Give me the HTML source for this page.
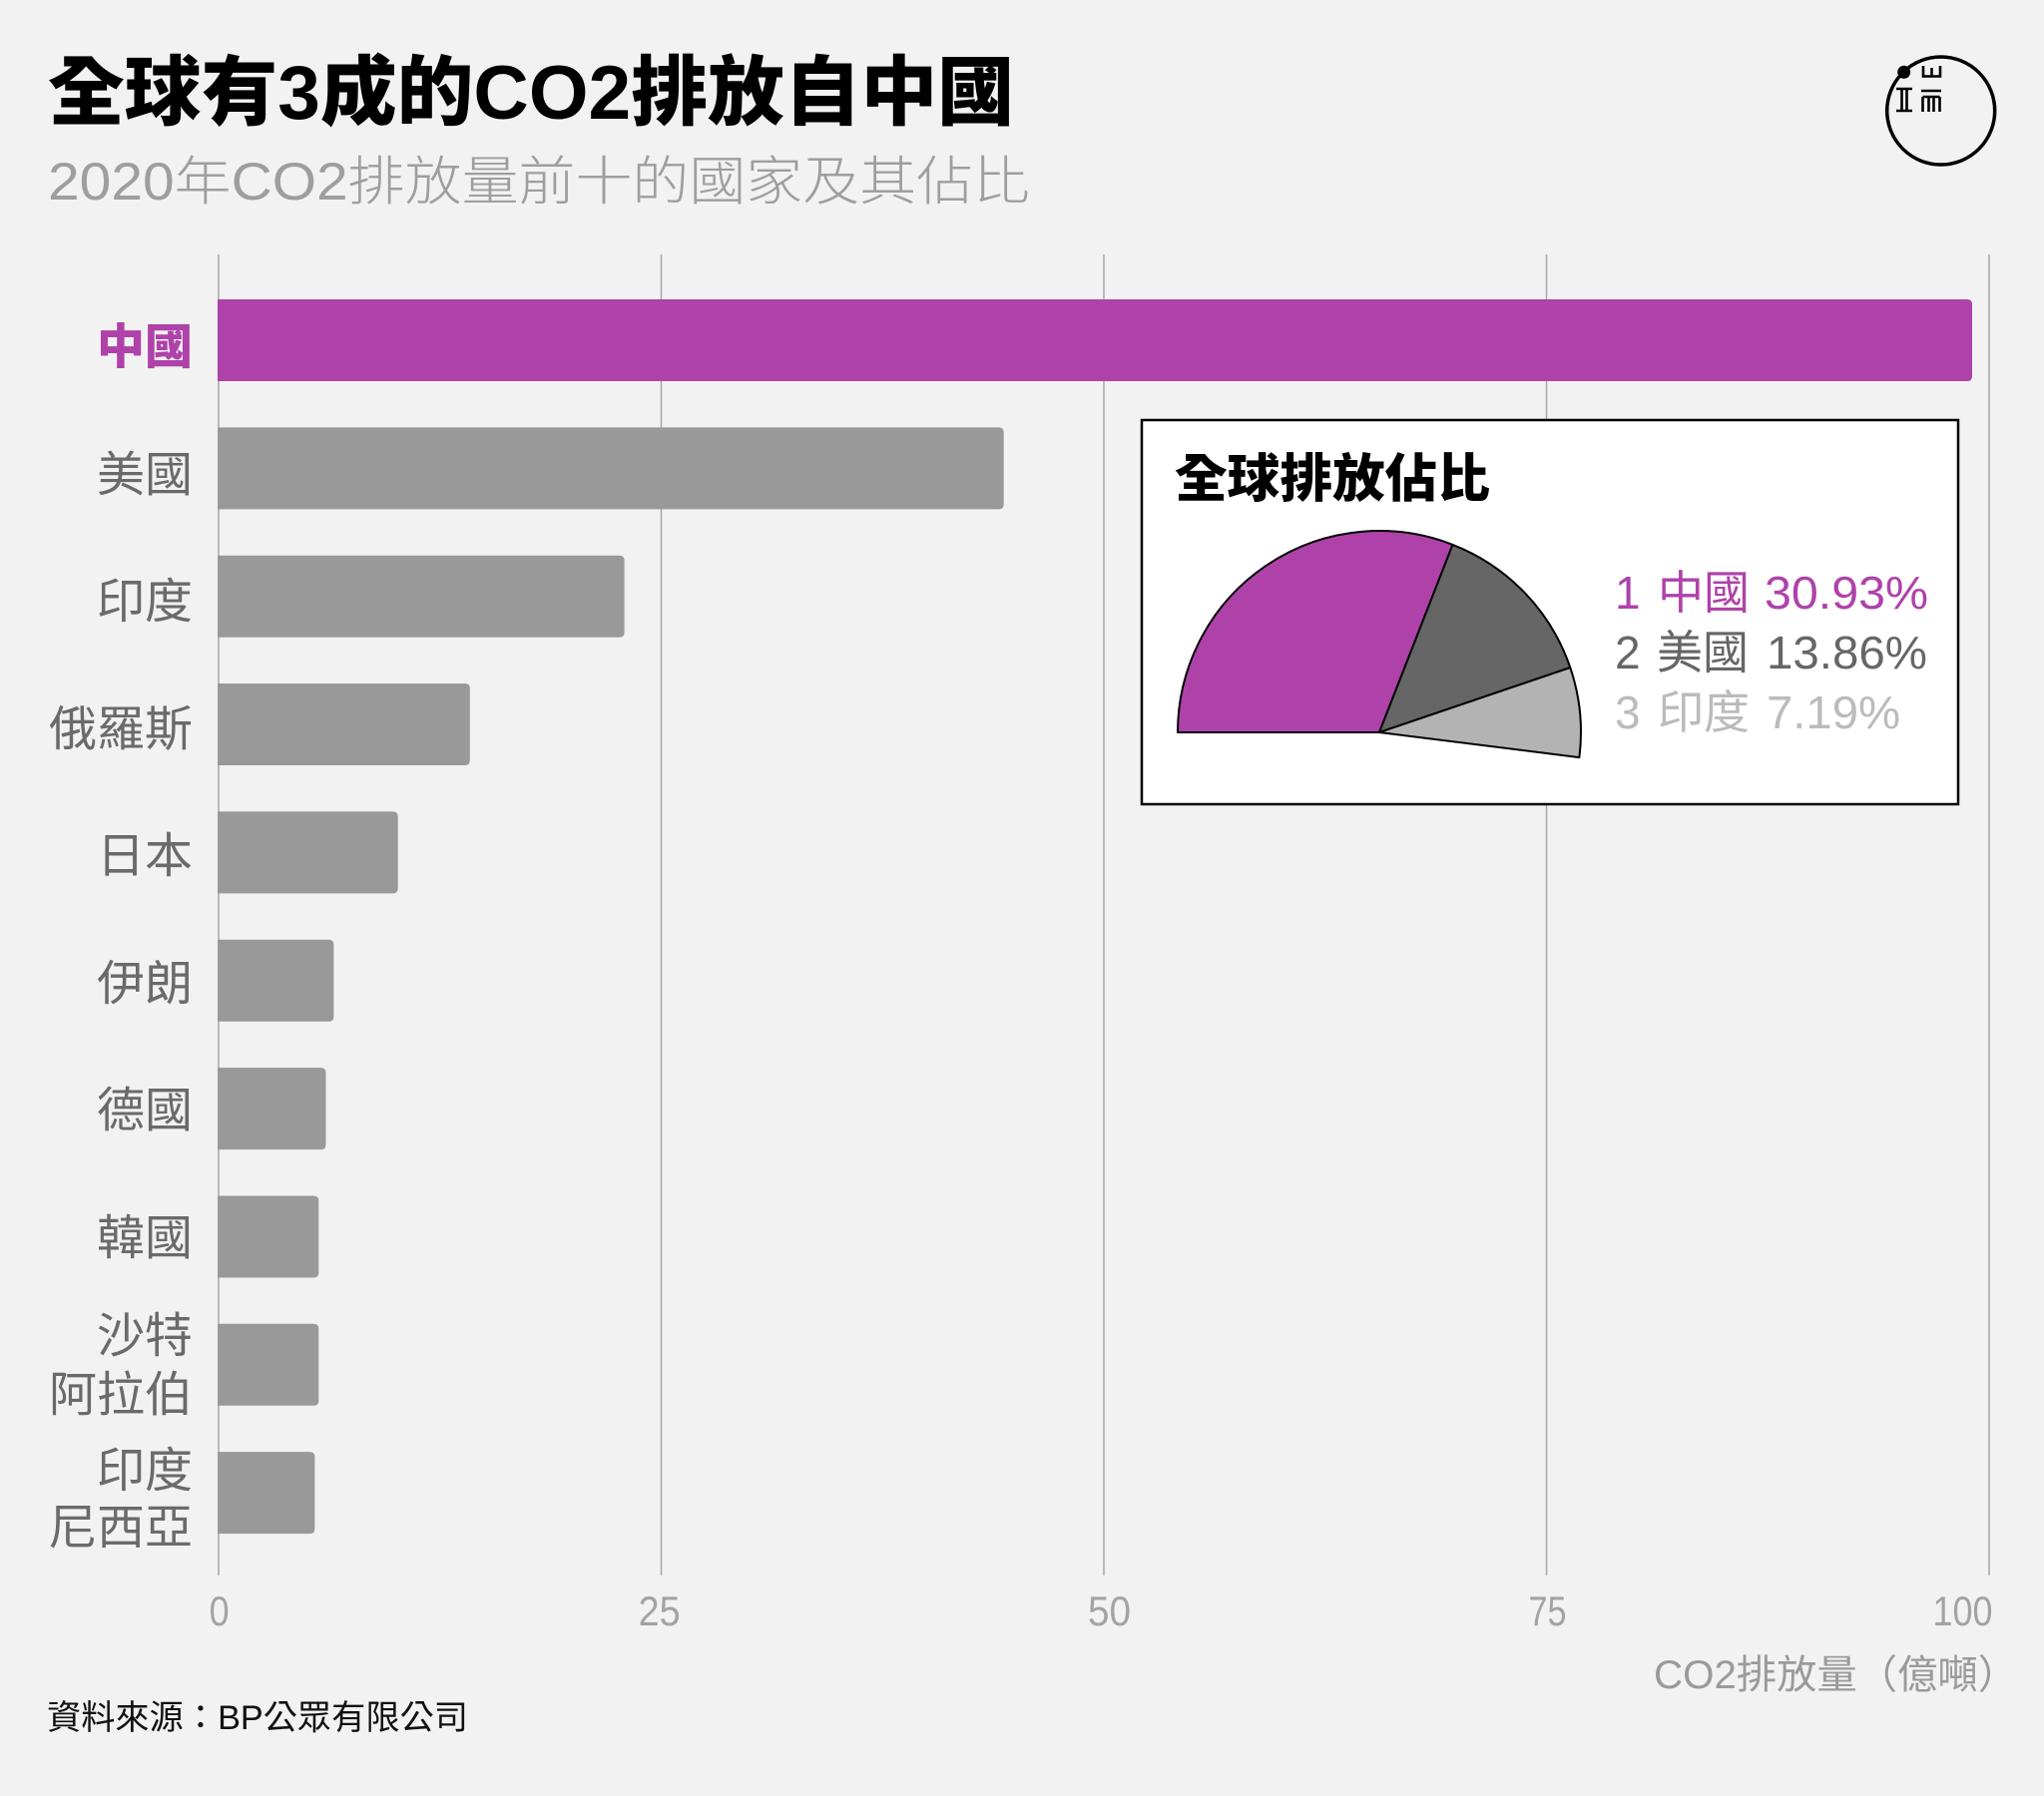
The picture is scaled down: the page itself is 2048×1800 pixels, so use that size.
<!DOCTYPE html>
<html>
<head>
<meta charset="utf-8">
<style>
  html, body { margin:0; padding:0; background:#f2f2f2; }
  svg { display:block; }
  .cjk { font-family: "Liberation Sans", "Noto Sans CJK TC", "Noto Sans CJK SC", sans-serif; }
</style>
</head>
<body>
<svg width="2048" height="1800" viewBox="0 0 2048 1800" xmlns="http://www.w3.org/2000/svg">
  <rect x="0" y="0" width="2048" height="1800" fill="#f2f2f2"/>

  <!-- Title -->
  <text class="cjk" x="48" y="119" font-size="76" font-weight="900" fill="#000" textLength="968" lengthAdjust="spacingAndGlyphs">全球有3成的CO2排放自中國</text>
  <!-- Subtitle -->
  <text class="cjk" x="48" y="200" font-size="53" font-weight="300" fill="#9e9e9e" textLength="984" lengthAdjust="spacingAndGlyphs">2020年CO2排放量前十的國家及其佔比</text>

  <!-- Logo -->
  <g stroke="#000" fill="none" stroke-width="3.5">
    <circle cx="1944.7" cy="111" r="54"/>
  </g>
  <circle cx="1907.7" cy="72.3" r="6.5" fill="#000"/>
  <g stroke="#000" stroke-width="2.6" fill="none" stroke-linecap="butt">
    <path d="M1927,66 V76.5 H1944 V66 M1935.5,68 V76.5"/>
    <path d="M1900,89 H1916 M1900,111 H1916 M1905.5,89 V111 M1910.5,89 V111"/>
    <path d="M1925,91 H1945 M1926.5,97 H1943.5 M1926.5,97 V112 M1943.5,97 V112 M1932.5,97 V112 M1937.5,97 V112"/>
  </g>

  <!-- Gridlines -->
  <g stroke="#a8a8a8" stroke-width="1.5">
    <line x1="219" y1="255" x2="219" y2="1579"/>
    <line x1="662.5" y1="255" x2="662.5" y2="1579"/>
    <line x1="1106" y1="255" x2="1106" y2="1579"/>
    <line x1="1549.5" y1="255" x2="1549.5" y2="1579"/>
    <line x1="1993" y1="255" x2="1993" y2="1579"/>
  </g>

  <!-- Bars -->
  <g>
    <path d="M218,300 H1971 Q1976,300 1976,305 V377 Q1976,382 1971,382 H218 Z" fill="#ae42a9"/>
    <path d="M218,428.35 H1000.7 Q1005.7,428.35 1005.7,433.35 V505.35 Q1005.7,510.35 1000.7,510.35 H218 Z" fill="#999999"/>
    <path d="M218,556.7 H620.6 Q625.6,556.7 625.6,561.7 V633.7 Q625.6,638.7 620.6,638.7 H218 Z" fill="#999999"/>
    <path d="M218,685.05 H465.8 Q470.8,685.05 470.8,690.05 V762.05 Q470.8,767.05 465.8,767.05 H218 Z" fill="#999999"/>
    <path d="M218,813.4 H393.7 Q398.7,813.4 398.7,818.4 V890.4 Q398.7,895.4 393.7,895.4 H218 Z" fill="#999999"/>
    <path d="M218,941.75 H329.4 Q334.4,941.75 334.4,946.75 V1018.75 Q334.4,1023.75 329.4,1023.75 H218 Z" fill="#999999"/>
    <path d="M218,1070.1 H321.5 Q326.5,1070.1 326.5,1075.1 V1147.1 Q326.5,1152.1 321.5,1152.1 H218 Z" fill="#999999"/>
    <path d="M218,1198.45 H314.3 Q319.3,1198.45 319.3,1203.45 V1275.45 Q319.3,1280.45 314.3,1280.45 H218 Z" fill="#999999"/>
    <path d="M218,1326.8 H314.3 Q319.3,1326.8 319.3,1331.8 V1403.8 Q319.3,1408.8 314.3,1408.8 H218 Z" fill="#999999"/>
    <path d="M218,1455.15 H310.4 Q315.4,1455.15 315.4,1460.15 V1532.15 Q315.4,1537.15 310.4,1537.15 H218 Z" fill="#999999"/>
  </g>

  <!-- Category labels -->
  <g class="cjk" font-size="48" text-anchor="end" fill="#6a6a6a">
    <text x="193" y="364" fill="#ae42a9" font-weight="900">中國</text>
    <text x="193" y="492">美國</text>
    <text x="193" y="619">印度</text>
    <text x="193" y="747">俄羅斯</text>
    <text x="193" y="874">日本</text>
    <text x="193" y="1002">伊朗</text>
    <text x="193" y="1129">德國</text>
    <text x="193" y="1257">韓國</text>
    <text x="193" y="1355">沙特</text>
    <text x="193" y="1414">阿拉伯</text>
    <text x="193" y="1490">印度</text>
    <text x="193" y="1547">尼西亞</text>
  </g>

  <!-- X tick labels -->
  <g font-family="Liberation Sans, sans-serif" font-size="42" fill="#a3a3a3" text-anchor="middle">
    <text x="219.6" y="1629" textLength="20" lengthAdjust="spacingAndGlyphs">0</text>
    <text x="660.6" y="1629" textLength="42" lengthAdjust="spacingAndGlyphs">25</text>
    <text x="1111.5" y="1629" textLength="43" lengthAdjust="spacingAndGlyphs">50</text>
    <text x="1550.5" y="1629" textLength="38" lengthAdjust="spacingAndGlyphs">75</text>
    <text x="1966.5" y="1629" textLength="60" lengthAdjust="spacingAndGlyphs">100</text>
  </g>

  <!-- Axis title -->
  <text class="cjk" x="1657" y="1692" font-size="40" fill="#9a9a9a" textLength="365" lengthAdjust="spacingAndGlyphs">CO2排放量（億噸）</text>

  <!-- Source -->
  <text class="cjk" x="47" y="1733" font-size="34" fill="#111" textLength="422" lengthAdjust="spacingAndGlyphs">資料來源：BP公眾有限公司</text>

  <!-- Inset -->
  <rect x="1144" y="421" width="818" height="385" fill="#ffffff" stroke="#000" stroke-width="2.5"/>
  <text class="cjk" x="1177" y="498" font-size="52" font-weight="900" fill="#000" textLength="316" lengthAdjust="spacingAndGlyphs">全球排放佔比</text>

  <!-- Pie -->
  <g stroke="#000" stroke-width="2" stroke-linejoin="round">
    <path d="M1382,734 L1180,734 A202,202 0 0 1 1455.5,545.9 Z" fill="#ae42a9"/>
    <path d="M1382,734 L1455.5,545.9 A202,202 0 0 1 1573.3,669.1 Z" fill="#666666"/>
    <path d="M1382,734 L1573.3,669.1 A202,202 0 0 1 1582.4,759.1 Z" fill="#b3b3b3"/>
  </g>

  <!-- Legend -->
  <g class="cjk" font-size="46">
    <g fill="#ae42a9">
      <text x="1618" y="610">1</text>
      <text x="1661" y="610">中國</text>
      <text x="1768" y="610" textLength="164" lengthAdjust="spacingAndGlyphs">30.93%</text>
    </g>
    <g fill="#666666">
      <text x="1618" y="670">2</text>
      <text x="1660" y="670">美國</text>
      <text x="1770" y="670" textLength="161" lengthAdjust="spacingAndGlyphs">13.86%</text>
    </g>
    <g fill="#bbbbbb">
      <text x="1618" y="730">3</text>
      <text x="1661" y="730">印度</text>
      <text x="1770" y="730" textLength="134" lengthAdjust="spacingAndGlyphs">7.19%</text>
    </g>
  </g>
</svg>
</body>
</html>
